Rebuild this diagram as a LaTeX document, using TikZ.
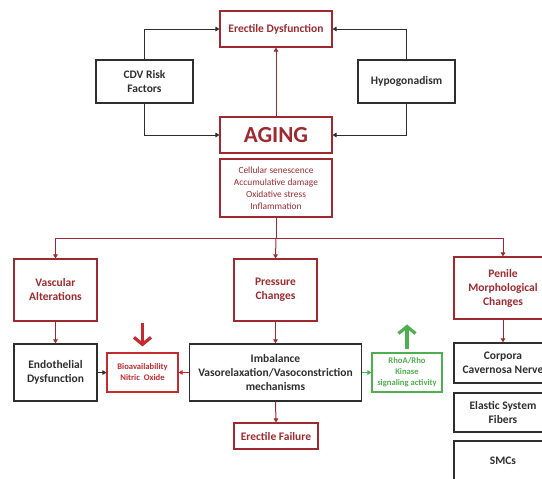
\documentclass[tikz,border=0pt]{standalone}
\usepackage{xcolor}
\usepackage{tikz}
\usepackage{fontspec}
\setmainfont{Carlito}
\usetikzlibrary{arrows.meta, positioning}
\definecolor{agingred}{HTML}{9E2A2F}
\definecolor{agingbright}{HTML}{C42A30}
\definecolor{aginggreen}{HTML}{4FAE4F}
\definecolor{aginggray}{HTML}{2E2E2E}

\tikzset{
  redbox/.style={draw=agingred, line width=1.1pt, text=agingred, align=center, inner sep=0pt, font=\fontsize{11.5}{14}\selectfont\bfseries},
  graybox/.style={draw=aginggray, line width=1.3pt, text=aginggray, align=center, inner sep=0pt, font=\fontsize{11.5}{14}\selectfont\bfseries},
  greenbox/.style={draw=aginggreen, line width=1.1pt, text=aginggreen, align=center, inner sep=0pt},
  smallfont/.style={font=\fontsize{8.6}{11}\selectfont\bfseries},
  redarr/.style={draw=agingred, line width=1pt, -{Triangle[length=4pt, width=4.5pt]}},
  grayarr/.style={draw=aginggray, line width=1pt, -{Triangle[length=4pt, width=4.5pt]}},
  greenarr/.style={draw=aginggreen, line width=1pt, -{Triangle[length=4pt, width=4.5pt]}},
  bigarr/.style={line width=3.2pt, -{Straight Barb[length=7pt, width=17pt]}}
}

\begin{document}
\begin{tikzpicture}[x=1pt, y=-1pt]
  \useasboundingbox (0,0) rectangle (542,479);
  \node[redbox, minimum width=112pt, minimum height=36pt] (ed) at (276,29) {Erectile Dysfunction};
  \node[graybox, minimum width=97pt, minimum height=43pt] (cdv) at (144.5,81.5) {CDV Risk\\Factors};
  \node[graybox, minimum width=97pt, minimum height=43pt] (hypo) at (406.5,81.5) {Hypogonadism};
  \node[redbox, minimum width=112pt, minimum height=36pt, font=\fontsize{23}{26}\selectfont\bfseries] (aging) at (276,135) {AGING};
  \node[redbox, minimum width=112pt, minimum height=58pt, font=\fontsize{9.4}{12}\selectfont] (causes) at (276,188) {Cellular senescence\\Accumulative damage\\Oxidative stress\\Inflammation};

  \node[redbox, minimum width=83pt, minimum height=62pt] (vasc) at (55.5,290) {Vascular\\Alterations};
  \node[redbox, minimum width=83pt, minimum height=62pt] (press) at (275.5,290) {Pressure\\Changes};
  \node[redbox, minimum width=98pt, minimum height=62pt] (penile) at (503,288) {Penile\\Morphological\\Changes};

  \node[graybox, minimum width=83pt, minimum height=57pt] (endo) at (55.5,372.5) {Endothelial\\Dysfunction};
  \node[redbox, smallfont, draw=agingbright, text=agingbright, minimum width=71pt, minimum height=39pt] (bio) at (142.5,372.5) {Bioavailability\\Nitric\ \ Oxide};
  \node[graybox, minimum width=172pt, minimum height=57pt] (imbal) at (275.5,372.5) {Imbalance\\Vasorelaxation/Vasoconstriction\\mechanisms};
  \node[greenbox, smallfont, minimum width=70pt, minimum height=39pt] (rhoa) at (407,372.5) {RhoA/Rho\\Kinase\\signaling activity};
  \node[redbox, minimum width=84pt, minimum height=26pt] (fail) at (276,436) {Erectile Failure};

  \node[graybox, minimum width=98pt, minimum height=40pt] (corp) at (503,363) {Corpora\\Cavernosa Nerve};
  \node[graybox, minimum width=98pt, minimum height=39pt] (elastic) at (503,412.5) {Elastic System\\Fibers};
  \node[graybox, minimum width=98pt, minimum height=40pt] (smc) at (503,461) {SMCs};

  % top loop
  \draw[grayarr] (cdv.north) |- (ed.west);
  \draw[grayarr] (cdv.south) |- (aging.west);
  \draw[grayarr] (hypo.north) |- (ed.east);
  \draw[grayarr] (hypo.south) |- (aging.east);
  \draw[redarr] (aging.north) -- (ed.south);

  % branches
  \coordinate (split) at (276,238);
  \draw[agingred, line width=1pt] (causes.south) -- (split);
  \draw[redarr] (split) -| (vasc.north);
  \draw[redarr] (split) -| (penile.north);
  \draw[redarr] (split) -- (press.north);

  \draw[redarr] (vasc.south) -- (endo.north);
  \draw[redarr] (press.south) -- (imbal.north);
  \draw[redarr] (penile.south) -- (corp.north);
  \draw[redarr] (imbal.south) -- (fail.north);
  \draw[grayarr] (endo.east) -- (bio.west);
  \draw[redarr, draw=agingbright] (imbal.west) -- (bio.east);
  \draw[greenarr] (imbal.east) -- (rhoa.west);

  \draw[bigarr, agingbright] ([yshift=29pt]bio.north) -- ([yshift=6pt]bio.north);
  \draw[bigarr, aginggreen] ([yshift=3pt]rhoa.north) -- ([yshift=28pt]rhoa.north);
\end{tikzpicture}
\end{document}
